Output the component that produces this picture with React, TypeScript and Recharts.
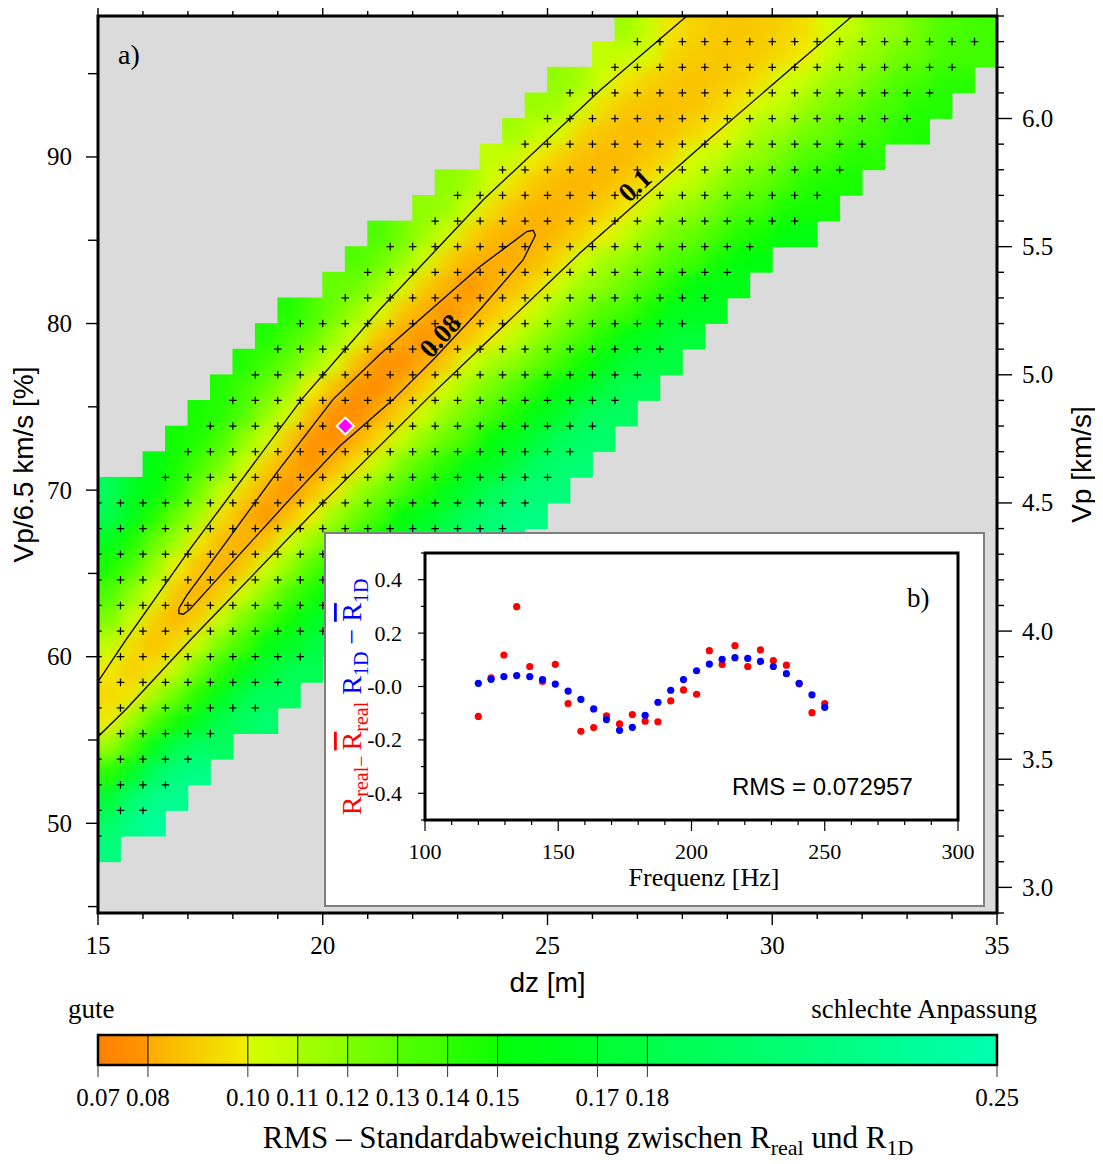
import React from 'react';
import { ScatterChart, Scatter, XAxis, YAxis, CartesianGrid } from 'recharts';

const SERIF = '"Liberation Serif", "Times New Roman", Times, serif';
const SANS = '"Liberation Sans", Arial, Helvetica, sans-serif';

// ---------------- main panel axes ----------------
const dzTicks = [15, 16, 17, 18, 19, 20, 21, 22, 23, 24, 25, 26, 27, 28, 29, 30, 31, 32, 33, 34, 35];
const pctTicks = [45, 50, 55, 60, 65, 70, 75, 80, 85, 90, 95];
const vpTicks = [2.9, 3.0, 3.1, 3.2, 3.3, 3.4, 3.5, 3.6, 3.7, 3.8, 3.9, 4.0, 4.1, 4.2, 4.3, 4.4, 4.5, 4.6, 4.7, 4.8, 4.9, 5.0, 5.1, 5.2, 5.3, 5.4, 5.5, 5.6, 5.7, 5.8, 5.9, 6.0, 6.1, 6.2, 6.3, 6.4];
const DZ_MIN = 15, DZ_MAX = 35, DZ_STEP = 0.5;
const VP_MIN = 2.9, VP_MAX = 6.4, VP_STEP = 0.1;
const VP_REF = 6.5;

// ---------------- RMS grid (computed nodes; each row: Vp, first dz, values every 0.5 m) ----------------
const rmsRows = [
  { vp: 6.3, dzFirst: 27.0, rms: [0.113, 0.099, 0.094, 0.090, 0.088, 0.088, 0.090, 0.093, 0.098, 0.104, 0.110, 0.116, 0.122, 0.128, 0.134, 0.140] },
  { vp: 6.2, dzFirst: 26.5, rms: [0.108, 0.097, 0.092, 0.088, 0.087, 0.088, 0.090, 0.094, 0.100, 0.106, 0.112, 0.118, 0.124, 0.130, 0.136, 0.142] },
  { vp: 6.1, dzFirst: 25.5, rms: [0.118, 0.103, 0.095, 0.090, 0.087, 0.086, 0.087, 0.090, 0.096, 0.102, 0.108, 0.114, 0.120, 0.126, 0.132, 0.138, 0.144] },
  { vp: 6.0, dzFirst: 25.0, rms: [0.115, 0.100, 0.093, 0.088, 0.085, 0.085, 0.087, 0.091, 0.098, 0.104, 0.110, 0.116, 0.122, 0.128, 0.134, 0.140, 0.146] },
  { vp: 5.9, dzFirst: 24.5, rms: [0.112, 0.098, 0.091, 0.086, 0.084, 0.085, 0.087, 0.093, 0.100, 0.106, 0.112, 0.118, 0.124, 0.130, 0.136, 0.142] },
  { vp: 5.8, dzFirst: 24.0, rms: [0.108, 0.096, 0.089, 0.085, 0.083, 0.084, 0.088, 0.094, 0.102, 0.109, 0.115, 0.122, 0.128, 0.135, 0.141, 0.148] },
  { vp: 5.7, dzFirst: 23.0, rms: [0.120, 0.105, 0.094, 0.087, 0.083, 0.082, 0.084, 0.089, 0.096, 0.104, 0.111, 0.117, 0.124, 0.130, 0.137, 0.143, 0.150] },
  { vp: 5.6, dzFirst: 22.5, rms: [0.119, 0.104, 0.093, 0.085, 0.082, 0.081, 0.084, 0.090, 0.099, 0.107, 0.114, 0.121, 0.128, 0.135, 0.142, 0.149, 0.156] },
  { vp: 5.5, dzFirst: 21.5, rms: [0.133, 0.118, 0.103, 0.091, 0.083, 0.079, 0.080, 0.084, 0.091, 0.102, 0.109, 0.116, 0.123, 0.130, 0.137, 0.144, 0.153] },
  { vp: 5.4, dzFirst: 21.0, rms: [0.132, 0.117, 0.102, 0.090, 0.082, 0.079, 0.080, 0.084, 0.093, 0.104, 0.111, 0.119, 0.126, 0.134, 0.141, 0.150, 0.160] },
  { vp: 5.3, dzFirst: 20.5, rms: [0.130, 0.115, 0.100, 0.089, 0.081, 0.078, 0.079, 0.085, 0.095, 0.105, 0.113, 0.121, 0.129, 0.137, 0.146, 0.156, 0.167] },
  { vp: 5.2, dzFirst: 19.5, rms: [0.145, 0.130, 0.115, 0.100, 0.088, 0.080, 0.077, 0.079, 0.086, 0.098, 0.107, 0.116, 0.124, 0.133, 0.142, 0.152, 0.162, 0.174] },
  { vp: 5.1, dzFirst: 19.0, rms: [0.145, 0.130, 0.115, 0.100, 0.086, 0.078, 0.076, 0.078, 0.087, 0.100, 0.109, 0.118, 0.127, 0.136, 0.146, 0.156, 0.167, 0.180] },
  { vp: 5.0, dzFirst: 18.5, rms: [0.145, 0.130, 0.115, 0.100, 0.086, 0.077, 0.075, 0.079, 0.089, 0.102, 0.112, 0.121, 0.131, 0.140, 0.151, 0.162, 0.174, 0.188] },
  { vp: 4.9, dzFirst: 18.0, rms: [0.145, 0.130, 0.115, 0.100, 0.085, 0.076, 0.074, 0.079, 0.091, 0.104, 0.114, 0.124, 0.134, 0.144, 0.155, 0.167, 0.180, 0.195] },
  { vp: 4.8, dzFirst: 17.5, rms: [0.148, 0.133, 0.118, 0.103, 0.086, 0.076, 0.073, 0.079, 0.092, 0.106, 0.117, 0.127, 0.138, 0.148, 0.160, 0.172, 0.186, 0.202] },
  { vp: 4.7, dzFirst: 17.0, rms: [0.150, 0.135, 0.120, 0.105, 0.088, 0.078, 0.075, 0.081, 0.095, 0.108, 0.119, 0.130, 0.141, 0.152, 0.164, 0.177, 0.192, 0.208] },
  { vp: 4.6, dzFirst: 16.5, rms: [0.155, 0.139, 0.123, 0.107, 0.091, 0.079, 0.077, 0.083, 0.097, 0.110, 0.121, 0.133, 0.144, 0.156, 0.168, 0.182, 0.197, 0.213] },
  { vp: 4.5, dzFirst: 15.0, rms: [0.200, 0.180, 0.160, 0.142, 0.125, 0.109, 0.093, 0.080, 0.077, 0.084, 0.100, 0.112, 0.124, 0.136, 0.148, 0.161, 0.175, 0.189, 0.204, 0.219] },
  { vp: 4.4, dzFirst: 15.0, rms: [0.182, 0.163, 0.145, 0.128, 0.112, 0.096, 0.082, 0.078, 0.085, 0.102, 0.114, 0.127, 0.139, 0.152, 0.165, 0.179, 0.194, 0.209, 0.224] },
  { vp: 4.3, dzFirst: 15.0, rms: [0.164, 0.147, 0.130, 0.114, 0.099, 0.083, 0.079, 0.086, 0.103, 0.116, 0.129, 0.142, 0.155, 0.168, 0.181, 0.194, 0.207] },
  { vp: 4.2, dzFirst: 15.0, rms: [0.149, 0.133, 0.117, 0.102, 0.085, 0.079, 0.087, 0.104, 0.118, 0.131, 0.145, 0.158, 0.172, 0.185, 0.199] },
  { vp: 4.1, dzFirst: 15.0, rms: [0.135, 0.120, 0.105, 0.086, 0.079, 0.088, 0.106, 0.120, 0.134, 0.148, 0.162, 0.176, 0.190] },
  { vp: 4.0, dzFirst: 15.0, rms: [0.123, 0.108, 0.090, 0.082, 0.090, 0.108, 0.122, 0.137, 0.151, 0.166, 0.180, 0.195] },
  { vp: 3.9, dzFirst: 15.0, rms: [0.111, 0.095, 0.085, 0.092, 0.109, 0.124, 0.139, 0.154, 0.169, 0.186] },
  { vp: 3.8, dzFirst: 15.0, rms: [0.099, 0.088, 0.094, 0.110, 0.126, 0.142, 0.158, 0.175, 0.195] },
  { vp: 3.7, dzFirst: 15.0, rms: [0.090, 0.095, 0.112, 0.129, 0.147, 0.165, 0.184, 0.205] },
  { vp: 3.6, dzFirst: 15.0, rms: [0.096, 0.113, 0.132, 0.151, 0.172, 0.195] },
  { vp: 3.5, dzFirst: 15.0, rms: [0.115, 0.140, 0.165, 0.192, 0.220] },
  { vp: 3.4, dzFirst: 15.0, rms: [0.142, 0.169, 0.199, 0.228] },
  { vp: 3.3, dzFirst: 15.0, rms: [0.175, 0.206, 0.236] },
  { vp: 3.2, dzFirst: 15.0, rms: [0.215] },
];

// ---------------- contour lines (dz [m], Vp/6.5 [%]) ----------------
const contour010Upper = [
  { dz: 15.0, pct: 58.5 }, { dz: 15.49, pct: 60.48 }, { dz: 15.64, pct: 61.08 }, { dz: 17.05, pct: 66.47 },
  { dz: 19.53, pct: 75.45 }, { dz: 21.27, pct: 80.84 }, { dz: 23.57, pct: 87.43 }, { dz: 26.17, pct: 94.01 }, { dz: 28.1, pct: 98.46 },
];
const contour010Lower = [
  { dz: 15.0, pct: 55.2 }, { dz: 15.64, pct: 56.89 }, { dz: 17.08, pct: 61.08 }, { dz: 20.01, pct: 69.28 },
  { dz: 22.31, pct: 75.45 }, { dz: 25.72, pct: 84.23 }, { dz: 28.62, pct: 91.12 }, { dz: 31.78, pct: 98.46 },
];
const contour008 = [
  { dz: 16.8, pct: 62.9 }, { dz: 16.97, pct: 63.67 }, { dz: 17.79, pct: 66.66 }, { dz: 18.98, pct: 71.06 },
  { dz: 20.23, pct: 75.45 }, { dz: 21.27, pct: 78.14 }, { dz: 23.5, pct: 83.43 }, { dz: 24.54, pct: 85.52 },
  { dz: 24.68, pct: 85.6 }, { dz: 24.73, pct: 85.3 }, { dz: 24.46, pct: 83.83 }, { dz: 23.5, pct: 80.84 },
  { dz: 22.46, pct: 77.84 }, { dz: 21.57, pct: 75.45 }, { dz: 20.38, pct: 72.65 }, { dz: 19.27, pct: 69.46 },
  { dz: 18.16, pct: 66.17 }, { dz: 17.42, pct: 63.97 }, { dz: 17.05, pct: 62.87 }, { dz: 16.9, pct: 62.55 },
  { dz: 16.8, pct: 62.6 }, { dz: 16.8, pct: 62.9 },
];
const contourLabels = [
  { dz: 22.76, pct: 78.9, text: '0.08', angle: -48 },
  { dz: 27.08, pct: 87.9, text: '0.1', angle: -43 },
];
const bestFit = [{ dz: 20.5, vp: 4.8 }];

// ---------------- inset b) ----------------
const freqHz = [120, 124.8, 129.6, 134.4, 139.3, 144.1, 148.9, 153.7, 158.5, 163.3, 168.1, 173.0, 177.8, 182.6, 187.4, 192.2, 197.0, 201.9, 206.7, 211.5, 216.3, 221.1, 225.9, 230.7, 235.6, 240.4, 245.2, 250.0];
const realDev = [-0.112, 0.032, 0.118, 0.299, 0.075, 0.019, 0.083, -0.064, -0.168, -0.154, -0.110, -0.140, -0.105, -0.130, -0.132, -0.054, -0.013, -0.029, 0.134, 0.082, 0.153, 0.075, 0.137, 0.097, 0.080, 0.010, -0.098, -0.064];
const oneDDev = [0.012, 0.027, 0.037, 0.041, 0.037, 0.026, 0.009, -0.017, -0.048, -0.084, -0.124, -0.164, -0.153, -0.108, -0.059, -0.014, 0.026, 0.059, 0.084, 0.102, 0.108, 0.105, 0.094, 0.075, 0.048, 0.012, -0.031, -0.078];
const freqTicks = [100, 110, 120, 130, 140, 150, 160, 170, 180, 190, 200, 210, 220, 230, 240, 250, 260, 270, 280, 290, 300];
const devTicks = [-0.5, -0.4, -0.3, -0.2, -0.1, 0, 0.1, 0.2, 0.3, 0.4, 0.5];
const rmsText = 'RMS = 0.072957';

// ---------------- colour palette (slices) ----------------
const cptStops = [0.07, 0.08, 0.10, 0.11, 0.12, 0.13, 0.14, 0.15, 0.17, 0.18, 0.25];
const cptLow = ['#ff7f00', '#ffaa00', '#d6ff00', '#a6ff00', '#7cff00', '#52ff00', '#2cff00', '#00ff0a', '#00ff30', '#00ff4a'];
const cptHigh = ['#ff9600', '#f0f000', '#bcff00', '#8cff00', '#64ff00', '#40ff00', '#12ff00', '#00ff24', '#00ff3e', '#00ffb0'];
const cptLabels = ['0.07', '0.08', '0.10', '0.11', '0.12', '0.13', '0.14', '0.15', '0.17', '0.18', '0.25'];

// ---------------- layout ----------------
const PAGE_W = 1103, PAGE_H = 1164;
const MAIN_W = 1103, MAIN_H = 1000;
const PLOT = { left: 98, top: 16, right: 997, bottom: 913 };
const TOP_AXIS_H = 8, LEFT_AXIS_W = 90, RIGHT_AXIS_W = 98, BOTTOM_AXIS_H = 80;
const INSET_BOX = { left: 324, top: 532, width: 661, height: 375 };
const INSET_PLOT = { left: 425, top: 553, right: 958, bottom: 820 };
const INSET_LEFT_AXIS_W = 101, INSET_BOTTOM_AXIS_H = 80;
const CB = { left: 98, right: 997, top: 1035, bottom: 1065 };

const CELL_W = (PLOT.right - PLOT.left) * DZ_STEP / (DZ_MAX - DZ_MIN);
const CELL_H = (PLOT.bottom - PLOT.top) * VP_STEP / (VP_MAX - VP_MIN);
const PCT_MIN = (VP_MIN / VP_REF) * 100;
const PCT_MAX = (VP_MAX / VP_REF) * 100;

// ---------------- derived structures ----------------
const nodeValue = new Map<string, number>();
const nodes: { dz: number; vp: number; rms: number }[] = [];
rmsRows.forEach((row) => {
  const iy = Math.round(row.vp / VP_STEP);
  const ix0 = Math.round(row.dzFirst / DZ_STEP);
  row.rms.forEach((v, i) => {
    nodeValue.set(`${ix0 + i}:${iy}`, v);
    nodes.push({ dz: (ix0 + i) * DZ_STEP, vp: iy * VP_STEP, rms: v });
  });
});

const cells: { dz: number; vp: number; rms: number }[] = [];
for (let ix = Math.round(DZ_MIN / DZ_STEP); ix < Math.round(DZ_MAX / DZ_STEP); ix++) {
  for (let iy = Math.round(VP_MIN / VP_STEP); iy < Math.round(VP_MAX / VP_STEP); iy++) {
    const vals = [[ix, iy], [ix + 1, iy], [ix, iy + 1], [ix + 1, iy + 1]]
      .map(([a, b]) => nodeValue.get(`${a}:${b}`))
      .filter((v) => v !== undefined) as number[];
    if (vals.length) {
      cells.push({ dz: (ix + 0.5) * DZ_STEP, vp: (iy + 0.5) * VP_STEP, rms: vals.reduce((s, v) => s + v, 0) / vals.length });
    }
  }
}

const realPts = freqHz.map((f, i) => ({ f, d: realDev[i] }));
const oneDPts = freqHz.map((f, i) => ({ f, d: oneDDev[i] }));

const hexToRgb = (h: string) => [parseInt(h.slice(1, 3), 16), parseInt(h.slice(3, 5), 16), parseInt(h.slice(5, 7), 16)];
function rmsColor(v: number) {
  let i = 0;
  while (i < cptStops.length - 2 && v > cptStops[i + 1]) i++;
  const t = Math.max(0, Math.min(1, (v - cptStops[i]) / (cptStops[i + 1] - cptStops[i])));
  const a = hexToRgb(cptLow[i]);
  const b = hexToRgb(cptHigh[i]);
  const c = a.map((x, k) => Math.round(x + (b[k] - x) * t));
  return `rgb(${c[0]},${c[1]},${c[2]})`;
}
const cbX = (v: number) => CB.left + ((v - cptStops[0]) / (cptStops[cptStops.length - 1] - cptStops[0])) * (CB.right - CB.left);

// ---------------- shapes ----------------
const HeatCell = (p: any) => (
  <rect x={p.cx - CELL_W / 2 - 0.4} y={p.cy - CELL_H / 2 - 0.4} width={CELL_W + 0.8} height={CELL_H + 0.8} fill={rmsColor(p.payload.rms)} />
);
const Cross = (p: any) => (
  <path d={`M${p.cx - 3.8},${p.cy}H${p.cx + 3.8}M${p.cx},${p.cy - 3.8}V${p.cy + 3.8}`} stroke="#000" strokeWidth={1.25} fill="none" />
);
const Nothing = () => <g />;
const ContourLabel = (p: any) => (
  <text x={p.cx} y={p.cy} transform={`rotate(${p.payload.angle},${p.cx},${p.cy})`} textAnchor="middle" fontFamily={SERIF} fontWeight="bold" fontSize={27} fill="#000">
    {p.payload.text}
  </text>
);
const Diamond = (p: any) => (
  <path d={`M${p.cx},${p.cy - 8.5}L${p.cx + 8.5},${p.cy}L${p.cx},${p.cy + 8.5}L${p.cx - 8.5},${p.cy}Z`} fill="#ff00ff" stroke="#ffffff" strokeWidth={2} />
);
const RedDot = (p: any) => <circle cx={p.cx} cy={p.cy} r={3.6} fill="#ff0000" />;
const BlueDot = (p: any) => <circle cx={p.cx} cy={p.cy} r={3.6} fill="#0000ff" />;

// ---------------- ticks ----------------
const BottomTick = (p: any) => {
  const v = p.payload.value;
  const major = Math.abs(v % 5) < 1e-6;
  return (
    <g>
      <line x1={p.x} y1={p.y} x2={p.x} y2={p.y + (major ? 12 : 6)} stroke="#000" strokeWidth={1.4} />
      {major && <text x={p.x} y={p.y + 41} textAnchor="middle" fontFamily={SERIF} fontSize={25} fill="#000">{v}</text>}
    </g>
  );
};
const TopTick = (p: any) => {
  const v = p.payload.value;
  const major = Math.abs(v % 5) < 1e-6;
  return <line x1={p.x} y1={p.y} x2={p.x} y2={p.y - (major ? 11 : 5)} stroke="#000" strokeWidth={1.4} />;
};
const LeftTick = (p: any) => {
  const v = p.payload.value;
  const major = Math.abs(v % 10) < 1e-6;
  return (
    <g>
      <line x1={p.x} y1={p.y} x2={p.x - (major ? 12 : 10)} y2={p.y} stroke="#000" strokeWidth={1.4} />
      {major && <text x={p.x - 26} y={p.y + 8.5} textAnchor="end" fontFamily={SERIF} fontSize={25} fill="#000">{v}</text>}
    </g>
  );
};
const RightTick = (p: any) => {
  const v = p.payload.value;
  const major = Math.abs(v * 2 - Math.round(v * 2)) < 1e-6;
  return (
    <g>
      <line x1={p.x} y1={p.y} x2={p.x + (major ? 15 : 7)} y2={p.y} stroke="#000" strokeWidth={1.4} />
      {major && <text x={p.x + 25} y={p.y + 8.5} textAnchor="start" fontFamily={SERIF} fontSize={25} fill="#000">{v.toFixed(1)}</text>}
    </g>
  );
};
const InsetBottomTick = (p: any) => {
  const v = p.payload.value;
  const major = Math.abs(v % 50) < 1e-6;
  return (
    <g>
      <line x1={p.x} y1={p.y} x2={p.x} y2={p.y + (major ? 11 : 5)} stroke="#000" strokeWidth={1.2} />
      {major && <text x={p.x} y={p.y + 39} textAnchor="middle" fontFamily={SERIF} fontSize={22} fill="#000">{v}</text>}
    </g>
  );
};
const InsetLeftTick = (p: any) => {
  const v = p.payload.value;
  const k = Math.round(v * 10);
  const major = k % 2 === 0 && Math.abs(k) < 5;
  const label = k === 0 ? '-0.0' : v.toFixed(1);
  return (
    <g>
      <line x1={p.x} y1={p.y} x2={p.x - (major ? 7 : 4)} y2={p.y} stroke="#000" strokeWidth={1.2} />
      {major && <text x={p.x - 23} y={p.y + 7.5} textAnchor="end" fontFamily={SERIF} fontSize={22} fill="#000">{label}</text>}
    </g>
  );
};

export default function App() {
  const abs = (left: number, top: number): React.CSSProperties => ({ position: 'absolute', left: left - 8, top: top - 8 });
  const midY = (PLOT.top + PLOT.bottom) / 2;
  return (
    <div style={{ position: 'relative', width: PAGE_W - 16, height: PAGE_H - 16 }}>
      <style>{`.heat-layer { filter: url(#heatSmooth); }`}</style>
      <svg width={0} height={0} style={{ position: 'absolute' }}>
        <defs>
          <filter id="heatSmooth" x="-5%" y="-5%" width="110%" height="110%" colorInterpolationFilters="sRGB">
            <feGaussianBlur in="SourceGraphic" stdDeviation={8} result="blur" />
            <feComponentTransfer in="blur" result="solid">
              <feFuncA type="table" tableValues="0 1 1 1 1 1 1 1 1 1 1 1 1 1 1 1 1 1 1 1" />
            </feComponentTransfer>
            <feComposite in="solid" in2="SourceAlpha" operator="in" />
          </filter>
        </defs>
      </svg>

      {/* main panel a) */}
      <div style={abs(0, 0)}>
        <ScatterChart
          width={MAIN_W}
          height={MAIN_H}
          margin={{
            top: PLOT.top - TOP_AXIS_H,
            left: PLOT.left - LEFT_AXIS_W,
            right: MAIN_W - PLOT.right - RIGHT_AXIS_W,
            bottom: MAIN_H - PLOT.bottom - BOTTOM_AXIS_H,
          }}
        >
          <CartesianGrid xAxisId={0} yAxisId="vp" fill="#dbdbdb" stroke="none" horizontal={false} vertical={false} />
          <XAxis xAxisId={0} type="number" dataKey="dz" domain={[DZ_MIN, DZ_MAX]} ticks={dzTicks} interval={0} allowDataOverflow height={BOTTOM_AXIS_H} tickSize={0} tickMargin={0} axisLine={false} tickLine={false} tick={(p: any) => <BottomTick {...p} />} />
          <XAxis xAxisId="top" orientation="top" type="number" dataKey="dz" domain={[DZ_MIN, DZ_MAX]} ticks={dzTicks} interval={0} allowDataOverflow height={TOP_AXIS_H} tickSize={0} tickMargin={0} axisLine={false} tickLine={false} tick={(p: any) => <TopTick {...p} />} />
          <YAxis yAxisId="pct" orientation="left" type="number" dataKey="pct" domain={[PCT_MIN, PCT_MAX]} ticks={pctTicks} interval={0} allowDataOverflow width={LEFT_AXIS_W} tickSize={0} tickMargin={0} axisLine={false} tickLine={false} tick={(p: any) => <LeftTick {...p} />} />
          <YAxis yAxisId="vp" orientation="right" type="number" dataKey="vp" domain={[VP_MIN, VP_MAX]} ticks={vpTicks} interval={0} allowDataOverflow width={RIGHT_AXIS_W} tickSize={0} tickMargin={0} axisLine={false} tickLine={false} tick={(p: any) => <RightTick {...p} />} />

          <Scatter data={cells} xAxisId={0} yAxisId="vp" className="heat-layer" shape={HeatCell} isAnimationActive={false} />
          <Scatter data={contour010Upper} xAxisId={0} yAxisId="pct" line={{ stroke: '#000', strokeWidth: 1.3 }} lineType="joint" shape={Nothing} isAnimationActive={false} />
          <Scatter data={contour010Lower} xAxisId={0} yAxisId="pct" line={{ stroke: '#000', strokeWidth: 1.3 }} lineType="joint" shape={Nothing} isAnimationActive={false} />
          <Scatter data={contour008} xAxisId={0} yAxisId="pct" line={{ stroke: '#000', strokeWidth: 1.3 }} lineType="joint" shape={Nothing} isAnimationActive={false} />
          <Scatter data={nodes} xAxisId={0} yAxisId="vp" shape={Cross} isAnimationActive={false} />
          <Scatter data={contourLabels} xAxisId={0} yAxisId="pct" shape={ContourLabel} isAnimationActive={false} />
          <Scatter data={bestFit} xAxisId={0} yAxisId="vp" shape={Diamond} isAnimationActive={false} />
        </ScatterChart>
      </div>

      {/* inset b) */}
      <div
        style={{
          ...abs(INSET_BOX.left, INSET_BOX.top),
          width: INSET_BOX.width,
          height: INSET_BOX.height,
          background: '#ffffff',
          border: '2px solid #7f7f7f',
          boxSizing: 'border-box',
        }}
      />
      <div style={abs(INSET_BOX.left, INSET_BOX.top)}>
        <ScatterChart
          width={INSET_BOX.width}
          height={INSET_BOX.height}
          margin={{
            top: INSET_PLOT.top - INSET_BOX.top,
            left: INSET_PLOT.left - INSET_BOX.left - INSET_LEFT_AXIS_W,
            right: INSET_BOX.left + INSET_BOX.width - INSET_PLOT.right,
            bottom: INSET_BOX.top + INSET_BOX.height - INSET_PLOT.bottom - INSET_BOTTOM_AXIS_H,
          }}
        >
          <XAxis type="number" dataKey="f" domain={[100, 300]} ticks={freqTicks} interval={0} allowDataOverflow height={INSET_BOTTOM_AXIS_H} tickSize={0} tickMargin={0} axisLine={false} tickLine={false} tick={(p: any) => <InsetBottomTick {...p} />} />
          <YAxis type="number" dataKey="d" domain={[-0.5, 0.5]} ticks={devTicks} interval={0} allowDataOverflow width={INSET_LEFT_AXIS_W} tickSize={0} tickMargin={0} axisLine={false} tickLine={false} tick={(p: any) => <InsetLeftTick {...p} />} />
          <Scatter data={realPts} shape={RedDot} isAnimationActive={false} />
          <Scatter data={oneDPts} shape={BlueDot} isAnimationActive={false} />
        </ScatterChart>
      </div>

      {/* texts, frames, colour bar */}
      <svg width={PAGE_W} height={PAGE_H} style={{ ...abs(0, 0), pointerEvents: 'none' }}>
        <defs>
          {cptLow.map((c, i) => (
            <linearGradient key={i} id={`cbg${i}`} x1="0" y1="0" x2="1" y2="0">
              <stop offset="0" stopColor={c} />
              <stop offset="1" stopColor={cptHigh[i]} />
            </linearGradient>
          ))}
        </defs>
        <rect x={PLOT.left} y={PLOT.top} width={PLOT.right - PLOT.left} height={PLOT.bottom - PLOT.top} fill="none" stroke="#000" strokeWidth={3} />
        <text x={118} y={64} fontFamily={SERIF} fontSize={28} fill="#000">a)</text>
        <text x={33} y={midY} transform={`rotate(-90,33,${midY})`} textAnchor="middle" fontFamily={SANS} fontSize={28} fill="#000">Vp/6.5 km/s [%]</text>
        <text x={1091} y={midY} transform={`rotate(-90,1091,${midY})`} textAnchor="middle" fontFamily={SANS} fontSize={28} fill="#000">Vp [km/s]</text>
        <text x={(PLOT.left + PLOT.right) / 2} y={992} textAnchor="middle" fontFamily={SANS} fontSize={28} fill="#000">dz [m]</text>

        {/* inset texts */}
        <rect x={INSET_PLOT.left} y={INSET_PLOT.top} width={INSET_PLOT.right - INSET_PLOT.left} height={INSET_PLOT.bottom - INSET_PLOT.top} fill="none" stroke="#000" strokeWidth={3} />
        <text x={907} y={607} fontFamily={SERIF} fontSize={27} fill="#000">b)</text>
        <text x={732} y={795} fontFamily={SANS} fontSize={24} fill="#000">{rmsText}</text>
        <text x={704} y={886} textAnchor="middle" fontFamily={SERIF} fontSize={26} fill="#000">Frequenz [Hz]</text>
        <text x={361} y={697} transform="rotate(-90,361,697)" textAnchor="middle" fontFamily={SERIF} fontSize={28}>
          <tspan fill="#ff0000">R</tspan>
          <tspan fill="#ff0000" fontSize={20} dy={7}>real</tspan>
          <tspan fill="#ff0000" fontSize={20}>− </tspan>
          <tspan fill="#ff0000" dy={-7} textDecoration="overline" style={{ textDecoration: 'overline' }}>R</tspan>
          <tspan fill="#ff0000" fontSize={20} dy={7}>real</tspan>
          <tspan fill="#0000ff" dy={-7}>{'\u00a0R'}</tspan>
          <tspan fill="#0000ff" fontSize={20} dy={7}>1D</tspan>
          <tspan fill="#0000ff" dy={-7}>{'\u00a0−\u00a0'}</tspan>
          <tspan fill="#0000ff" textDecoration="overline" style={{ textDecoration: 'overline' }}>R</tspan>
          <tspan fill="#0000ff" fontSize={20} dy={7}>1D</tspan>
        </text>

        {/* colour bar */}
        <text x={68} y={1018} fontFamily={SERIF} fontSize={27} fill="#000">gute</text>
        <text x={1037} y={1018} textAnchor="end" fontFamily={SERIF} fontSize={27} fill="#000">schlechte Anpassung</text>
        {cptLow.map((_, i) => (
          <rect key={i} x={cbX(cptStops[i])} y={CB.top} width={cbX(cptStops[i + 1]) - cbX(cptStops[i])} height={CB.bottom - CB.top} fill={`url(#cbg${i})`} />
        ))}
        {cptStops.slice(1, -1).map((s, i) => (
          <line key={i} x1={cbX(s)} y1={CB.top} x2={cbX(s)} y2={CB.bottom} stroke="#000" strokeWidth={1} />
        ))}
        <rect x={CB.left} y={CB.top} width={CB.right - CB.left} height={CB.bottom - CB.top} fill="none" stroke="#000" strokeWidth={2.5} />
        {cptStops.map((s, i) => (
          <g key={i}>
            <line x1={cbX(s)} y1={CB.bottom} x2={cbX(s)} y2={CB.bottom + 12} stroke="#333" strokeWidth={1} />
            <text x={cbX(s)} y={1106} textAnchor="middle" fontFamily={SERIF} fontSize={25} fill="#000">{cptLabels[i]}</text>
          </g>
        ))}
        <text x={588} y={1148} textAnchor="middle" fontFamily={SERIF} fontSize={31} fill="#000">
          <tspan>RMS – Standardabweichung zwischen R</tspan>
          <tspan fontSize={22} dy={7}>real</tspan>
          <tspan dy={-7}> und R</tspan>
          <tspan fontSize={22} dy={7}>1D</tspan>
        </text>
      </svg>
    </div>
  );
}
